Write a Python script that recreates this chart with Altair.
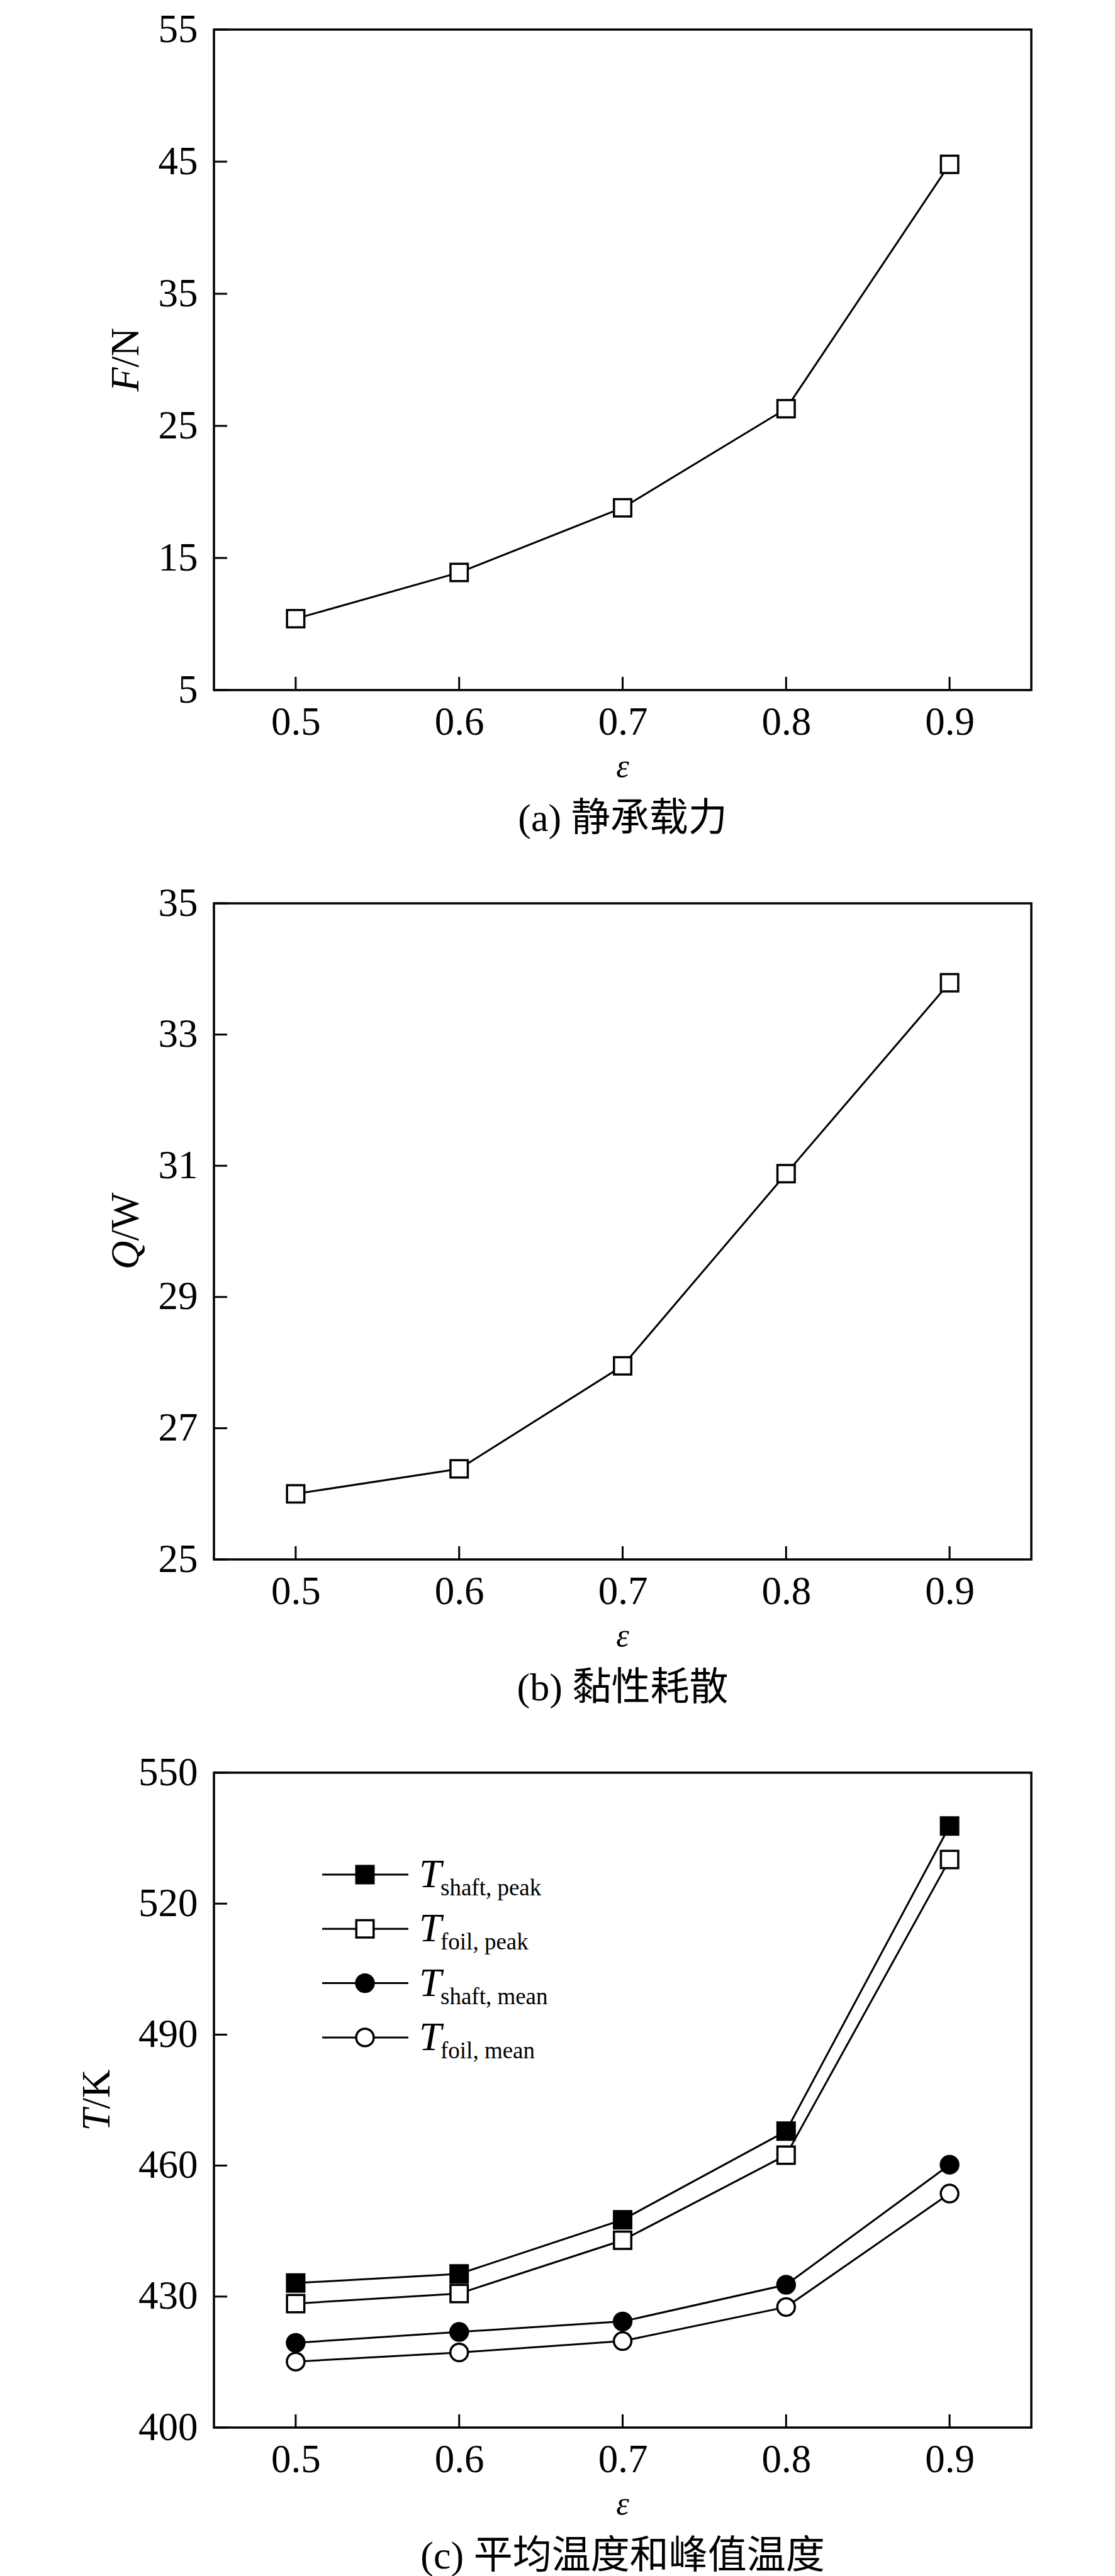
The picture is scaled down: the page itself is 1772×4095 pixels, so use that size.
import altair as alt
import pandas as pd

# ---------------- data ----------------
eps = [0.5, 0.6, 0.7, 0.8, 0.9]
F_load = [10.4, 13.9, 18.8, 26.3, 44.8]          # (a) F/N
Q_diss = [26.0, 26.38, 27.95, 30.88, 33.79]       # (b) Q/W
T_shaft_peak = [433.1, 435.2, 447.6, 467.9, 537.8]
T_foil_peak = [428.4, 430.7, 442.9, 462.4, 530.1]
T_shaft_mean = [419.4, 421.9, 424.3, 432.7, 460.2]
T_foil_mean = [415.1, 417.2, 419.8, 427.6, 453.6]

x_ticks = [0.5, 0.6, 0.7, 0.8, 0.9]
yticks_a = [5, 15, 25, 35, 45, 55]
yticks_b = [25, 27, 29, 31, 33, 35]
yticks_c = [400, 430, 460, 490, 520, 550]

series_names = ["shaft, peak", "foil, peak", "shaft, mean", "foil, mean"]

# ---------------- style ----------------
FONT = "Liberation Serif, Times New Roman, Noto Sans CJK SC"
LBL = 63
W = 1299
XDOM = [0.45, 0.95]
TICK = 21
SQ = 756
CI = 780
SW = 3.5

one = pd.DataFrame({"k": [0]})


def xenc(field="x"):
    return alt.X(f"{field}:Q", scale=alt.Scale(domain=XDOM, nice=False, zero=False),
                 axis=alt.Axis(values=x_ticks, format=".1f", labelFont=FONT, labelFontSize=LBL,
                               labelColor="black", labelPadding=20, ticks=False, tickSize=0,
                               domain=False, grid=False, title=None, labelFlush=False))


def yenc(dom, vals, field="y"):
    return alt.Y(f"{field}:Q", scale=alt.Scale(domain=dom, nice=False, zero=False),
                 axis=alt.Axis(values=vals, format="d", labelFont=FONT, labelFontSize=LBL,
                               labelColor="black", labelPadding=26, ticks=False, tickSize=0,
                               domain=False, grid=False, title=None, labelFlush=False))


def tick_layers(dom, vals, H):
    xt = alt.Chart(pd.DataFrame({"x": x_ticks})).mark_rule(color="black", strokeWidth=3).encode(
        x=xenc(), y=alt.value(H), y2=alt.value(H - TICK))
    yt = alt.Chart(pd.DataFrame({"y": vals})).mark_rule(color="black", strokeWidth=3).encode(
        y=yenc(dom, vals), x=alt.value(0), x2=alt.value(TICK))
    return [xt, yt]


def text_layer(txt, x, y, size, style="normal", align="left", baseline="alphabetic", angle=0):
    kw = dict(text=txt, font=FONT, fontSize=size, fontStyle=style, align=align,
              baseline=baseline, color="black")
    if angle:
        kw["angle"] = angle
    return alt.Chart(one).mark_text(**kw).encode(x=alt.value(x), y=alt.value(y))


def labels(H, ylet, yunit, ytitle_x, yshift, caption):
    return [
        text_layer(ylet, ytitle_x, H / 2 + yshift, 63, style="italic", align="right", angle=270),
        text_layer(yunit, ytitle_x, H / 2 + yshift, 63, align="left", angle=270),
        text_layer("ε", W / 2, H + 138, 52, style="italic", align="center"),
        text_layer(caption, W / 2, H + 205, 62, align="center", baseline="middle"),
    ]


def single_panel(vals, dom, yt, H, ylet, yunit, yshift, caption):
    df = pd.DataFrame({"x": eps, "y": vals})
    base = alt.Chart(df)
    line = base.mark_line(color="black", strokeWidth=3).encode(x=xenc(), y=yenc(dom, yt))
    pts = base.mark_point(shape="square", size=SQ, filled=True, fill="white", stroke="black",
                          strokeWidth=SW, opacity=1).encode(x=xenc(), y=yenc(dom, yt))
    layers = [line] + tick_layers(dom, yt, H) + [pts] + labels(H, ylet, yunit, -120, yshift, caption)
    return alt.layer(*layers).properties(width=W, height=H)


Ha, Hb, Hc = 1050, 1043, 1041
pa = single_panel(F_load, [5, 55], yticks_a, Ha, "F", "/N", 12, "(a) 静承载力")
pb = single_panel(Q_diss, [25, 35], yticks_b, Hb, "Q", "/W", 15, "(b) 黏性耗散")

# panel c
dfc = pd.DataFrame({
    "x": eps * 4,
    "y": T_shaft_peak + T_foil_peak + T_shaft_mean + T_foil_mean,
    "s": sum([[n] * 5 for n in series_names], []),
})
styles = {
    "shaft, peak": ("square", "black", SQ),
    "foil, peak": ("square", "white", SQ),
    "shaft, mean": ("circle", "black", CI),
    "foil, mean": ("circle", "white", CI),
}
dom_c = [400, 550]
lines_c, pts_c, leg = [], [], []
LEG_Y0, LEG_DY = 162, 86.3
for i, n in enumerate(series_names):
    shp, fill, sz = styles[n]
    b = alt.Chart(dfc).transform_filter(alt.datum.s == n)
    lines_c.append(b.mark_line(color="black", strokeWidth=3).encode(x=xenc(), y=yenc(dom_c, yticks_c)))
    pts_c.append(b.mark_point(shape=shp, size=sz, filled=True, fill=fill, stroke="black",
                              strokeWidth=SW, opacity=1).encode(x=xenc(), y=yenc(dom_c, yticks_c)))
    ry = LEG_Y0 + LEG_DY * i
    leg.append(alt.Chart(one).mark_rule(color="black", strokeWidth=3).encode(
        x=alt.value(172), x2=alt.value(309), y=alt.value(ry)))
    leg.append(alt.Chart(one).mark_point(shape=shp, size=sz, filled=True, fill=fill, stroke="black",
                                         strokeWidth=SW, opacity=1).encode(x=alt.value(240), y=alt.value(ry)))
    leg.append(text_layer("T", 326, ry + 20, 64, style="italic"))
    leg.append(text_layer(n, 360, ry + 33, 37))

pc = alt.layer(*(lines_c + tick_layers(dom_c, yticks_c, Hc) + pts_c + leg +
                 labels(Hc, "T", "/K", -166, 14, "(c) 平均温度和峰值温度"))).properties(width=W, height=Hc)

chart = alt.vconcat(pa, pb, pc, spacing=339, bounds="flush").properties(
    padding={"left": 114, "top": 6, "right": 20, "bottom": 10},
    background="white",
).configure_view(stroke="black", strokeWidth=3.5)

chart.save("out.html", embed_options={"renderer": "svg", "actions": False})
